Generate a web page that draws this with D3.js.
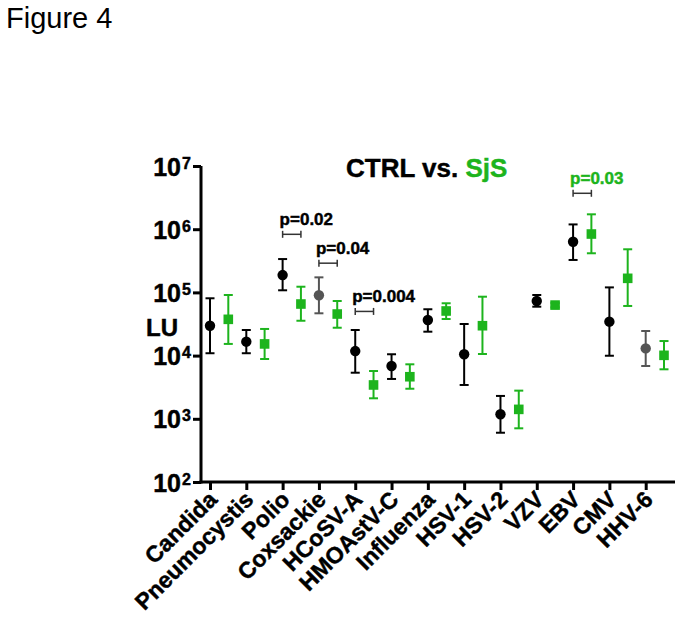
<!DOCTYPE html>
<html><head><meta charset="utf-8">
<script src="https://cdn.jsdelivr.net/npm/d3@7"></script>
<style>
html,body{margin:0;padding:0;background:#fff;}
text{font-family:"Liberation Sans",Arial,sans-serif;}
text.heavy{stroke-width:0.45px;paint-order:stroke;}
</style></head>
<body>
<svg id="chart" width="683" height="630"></svg>
<script>
const categories = ["Candida","Pneumocystis","Polio","Coxsackie","HCoSV-A","HMOAstV-C","Influenza","HSV-1","HSV-2","VZV","EBV","CMV","HHV-6"];
const ctrlMean = [29700,16600,188000,90000,11800,6840,36600,10500,1180,73100,634000,34400,13000];
const ctrlLow  = [10900,10900,108000,46700,5360,4270,23900,3430,602,59400,326000,9950,6840];
const ctrlHigh = [80700,25400,337000,173000,25400,10500,54100,31600,2300,91000,1190000,120000,24500];
const ctrlGray = [false,false,false,true,false,false,false,false,false,false,false,false,true];
const sjsMean = [37500,15300,65500,45500,3430,4630,50800,29700,1410,63000,839000,167000,10100];
const sjsLow  = [15300,8830,35600,27600,2110,2990,37900,10600,707,58000,416000,61000,6070];
const sjsHigh = [91000,26400,123000,73100,5700,7280,67300,85500,2790,68000,1720000,481000,17000];
const pCategories = ["Polio","Coxsackie","HCoSV-A","EBV"];
const pLabels = ["p=0.02","p=0.04","p=0.004","p=0.03"];
const pGreen = [false,false,false,true];
const pValuesAt = [830000,290000,50000,3700000];
const yTicks = [1e2,1e3,1e4,1e5,1e6,1e7];
const yTickExp = ["2","3","4","5","6","7"];

const GREEN = "#1db41d", GRAY = "#555555";
const svg = d3.select("#chart");

svg.append("text").attr("x",6).attr("y",28).attr("font-size",29).text("Figure 4");

const x = d3.scalePoint().domain(categories).range([210,645.7]);
const dx = 18.3;
const y = d3.scaleLog().domain([1e2,1e7]).range([482,166]);

// y axis
const yAxis = svg.append("g").attr("transform","translate(201,0)")
  .call(d3.axisLeft(y).tickValues(yTicks).tickSize(8).tickFormat(""));
yAxis.select(".domain").attr("stroke","#000").attr("stroke-width",3).attr("d","M0,166V483.5");
yAxis.selectAll(".tick line").attr("stroke","#000").attr("stroke-width",3);
yAxis.selectAll(".tick").each(function(d,i){
  const g = d3.select(this);
  g.append("text").attr("class","heavy").attr("stroke","#000").attr("x",-20).attr("y",9).attr("text-anchor","end")
    .attr("font-size",25).attr("font-weight","bold").attr("fill","#000").text("10");
  g.append("text").attr("class","heavy").attr("stroke","#000").attr("x",-19).attr("y",2).attr("text-anchor","start")
    .attr("font-size",16).attr("font-weight","bold").attr("fill","#000").text(yTickExp[i]);
});
svg.append("text").attr("class","heavy").attr("stroke","#000").attr("x",146).attr("y",336).attr("font-size",24).attr("font-weight","bold").text("LU");

// x axis
const xAxis = svg.append("g").attr("transform","translate(0,482)")
  .call(d3.axisBottom(x).tickSize(8).tickFormat(""));
xAxis.select(".domain").attr("stroke","#000").attr("stroke-width",3).attr("d","M199.5,0H675");
xAxis.selectAll(".tick line").attr("stroke","#000").attr("stroke-width",3);
xAxis.selectAll(".tick").append("text").attr("class","heavy").attr("stroke","#000")
  .attr("text-anchor","end").attr("font-size",23).attr("font-weight","bold").attr("fill","#000")
  .attr("transform","translate(8,19) rotate(-45)")
  .text(d=>d);

// title
const t = svg.append("text").attr("class","heavy").attr("x",346).attr("y",177).attr("font-size",26).attr("font-weight","bold");
t.append("tspan").attr("fill","#000").attr("stroke","#000").text("CTRL vs. ");
t.append("tspan").attr("fill",GREEN).attr("stroke",GREEN).text("SjS");

// error bars + markers
function drawSeries(mean, low, high, offset, colorFn, shape){
  const g = svg.append("g");
  categories.forEach((c,i)=>{
    const cx = x(c)+offset, col = colorFn(i);
    g.append("line").attr("x1",cx).attr("x2",cx).attr("y1",y(low[i])).attr("y2",y(high[i]))
      .attr("stroke",col).attr("stroke-width",2);
    [low[i],high[i]].forEach(v=>{
      g.append("line").attr("x1",cx-4.5).attr("x2",cx+4.5).attr("y1",y(v)).attr("y2",y(v))
        .attr("stroke",col).attr("stroke-width",2);
    });
    if(shape==="circle"){
      g.append("circle").attr("cx",cx).attr("cy",y(mean[i])).attr("r",5.2).attr("fill",col);
    } else {
      g.append("rect").attr("x",cx-4.8).attr("y",y(mean[i])-4.8).attr("width",9.6).attr("height",9.6).attr("fill",col);
    }
  });
}
drawSeries(ctrlMean,ctrlLow,ctrlHigh,0,i=>ctrlGray[i]?GRAY:"#000","circle");
drawSeries(sjsMean,sjsLow,sjsHigh,dx,()=>GREEN,"square");

// p-value brackets
pCategories.forEach((c,i)=>{
  const x0 = x(c), x1 = x(c)+dx, yy = y(pValuesAt[i]);
  const g = svg.append("g").attr("stroke","#333").attr("stroke-width",1.5);
  g.append("line").attr("x1",x0).attr("x2",x1).attr("y1",yy).attr("y2",yy);
  g.append("line").attr("x1",x0).attr("x2",x0).attr("y1",yy-3.5).attr("y2",yy+3.5);
  g.append("line").attr("x1",x1).attr("x2",x1).attr("y1",yy-3.5).attr("y2",yy+3.5);
  const col = pGreen[i]?GREEN:"#000";
  svg.append("text").attr("class","heavy").attr("stroke",col).attr("x",x0-3).attr("y",yy-9).attr("font-size",17).attr("font-weight","bold")
    .attr("fill",col).text(pLabels[i]);
});
</script>
</body></html>
